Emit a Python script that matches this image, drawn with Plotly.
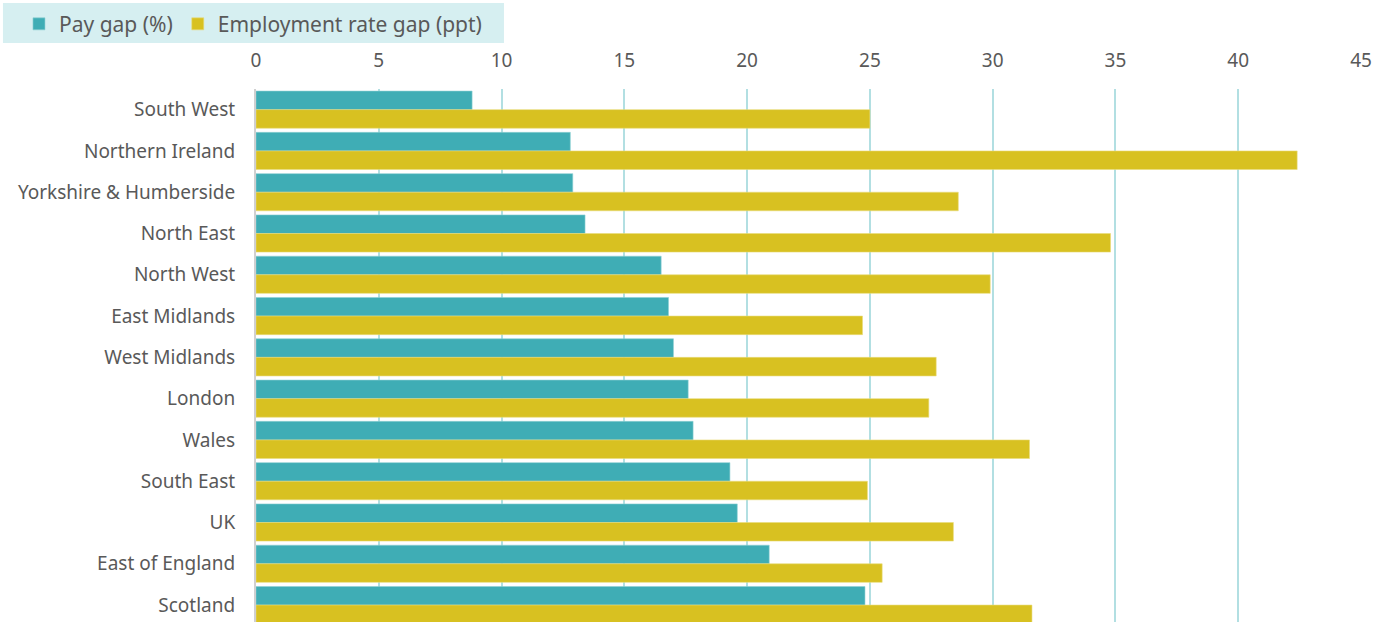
import plotly.graph_objects as go

regions = [
    "South West", "Northern Ireland", "Yorkshire & Humberside", "North East",
    "North West", "East Midlands", "West Midlands", "London", "Wales",
    "South East", "UK", "East of England", "Scotland",
]
pay_gap = [8.8, 12.8, 12.9, 13.4, 16.5, 16.8, 17.0, 17.6, 17.8, 19.3, 19.6, 20.9, 24.8]
employment_gap = [25.0, 42.4, 28.6, 34.8, 29.9, 24.7, 27.7, 27.4, 31.5, 24.9, 28.4, 25.5, 31.6]
x_ticks = [0, 5, 10, 15, 20, 25, 30, 35, 40, 45]

TEAL = "#3FADB5"
GOLD = "#D8C121"
TEXT = "#595959"
FONT = "Noto Sans"

fig = go.Figure()
fig.add_trace(go.Bar(
    y=regions, x=pay_gap, orientation="h", name="Pay gap (%)",
    marker=dict(color=TEAL, line=dict(color="#8fd0d4", width=0.6)),
))
fig.add_trace(go.Bar(
    y=regions, x=employment_gap, orientation="h", name="Employment rate gap (ppt)",
    marker=dict(color=GOLD, line=dict(color="#eadc7a", width=0.6)),
))

# pale panel behind the legend
fig.add_shape(
    type="rect", xref="paper", yref="paper",
    x0=-0.2290, x1=0.2244, y0=1.0863, y1=1.1614,
    fillcolor="#D6EFF1", line=dict(width=0), layer="below",
)

fig.update_layout(
    width=1390, height=622,
    margin=dict(l=256, r=29, t=89, b=0),
    paper_bgcolor="white", plot_bgcolor="white",
    barmode="group", bargap=0.1, bargroupgap=0.0,
    font=dict(family=FONT, size=19, color=TEXT),
    showlegend=True,
    legend=dict(
        orientation="h", x=-0.2145, y=1.160, xanchor="left", yanchor="top",
        bgcolor="rgba(0,0,0,0)", font=dict(family=FONT, size=21, color=TEXT),
        itemwidth=30, traceorder="normal",
    ),
)
fig.update_xaxes(
    side="top", range=[0, 45], tickvals=x_ticks, ticktext=[str(t) for t in x_ticks],
    showgrid=True, gridcolor="#B2DFE2", gridwidth=2, zeroline=False,
    showline=False, ticks="", ticklabelstandoff=17,
    tickfont=dict(family=FONT, size=19, color=TEXT),
)
fig.update_yaxes(
    type="category", categoryorder="array", categoryarray=regions,
    range=[12.41, -0.5], showgrid=False, zeroline=False,
    showline=True, linecolor="#D0D0D0", linewidth=2,
    ticks="", ticklabelstandoff=15,
    tickfont=dict(family=FONT, size=19, color=TEXT),
)

fig.write_html("out.html")
